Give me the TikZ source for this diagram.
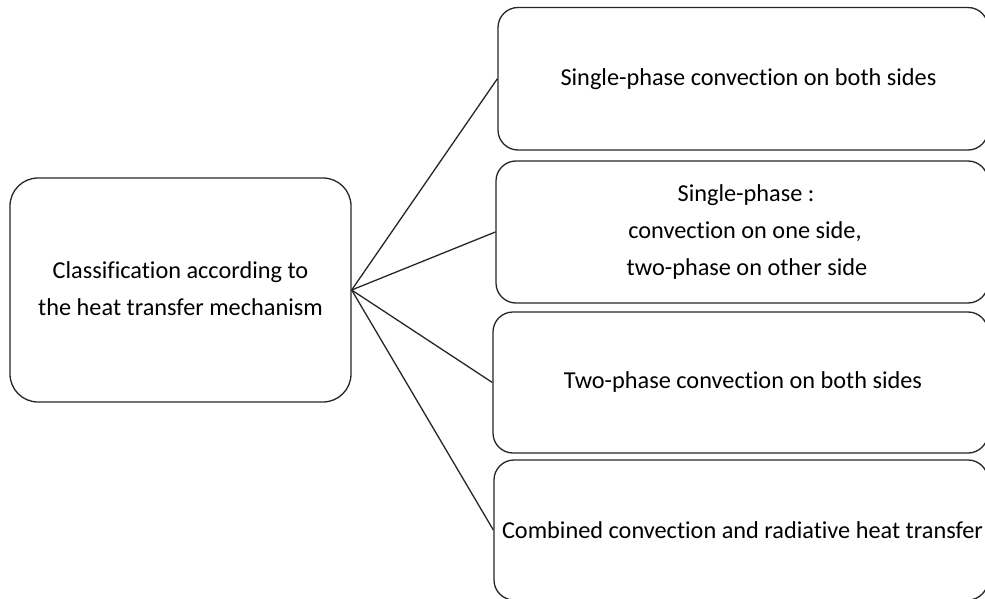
\documentclass[tikz,border=0pt]{standalone}
\usepackage{fontspec}
\setmainfont{Carlito}[Ligatures={CommonOff}]
\begin{document}
\begin{tikzpicture}[x=1pt,y=-1pt,
  box/.style={draw=black!85, line width=1.3pt, rounded corners=20pt,
    inner sep=0pt, align=center, font=\fontsize{24.3}{37}\selectfont},
  link/.style={draw=black!85, line width=1.3pt}]
\useasboundingbox (0,0) rectangle (985,599);
\begin{scope}
\clip (0,0) rectangle (985,599);
% source box on the left
\node[box, rounded corners=28pt, minimum width=341pt, minimum height=224pt]
  (src) at (180.5,290)
  {\raisebox{2pt}{Classification according to}\\\raisebox{2pt}{the heat transfer mechanism}};
% the four categories, running off the right edge
\node[box, minimum width=490pt, minimum height=142.5pt] (b1) at (743,78.75)
  {\hspace*{11pt}Single-phase convection on both sides};
\node[box, minimum width=492pt, minimum height=142pt] (b2) at (742,232)
  {\hspace*{8pt}Single-phase :\\\hspace*{6pt}convection on one side,\\\hspace*{10pt}two-phase on other side};
\node[box, minimum width=495pt, minimum height=141pt] (b3) at (740.5,382.5)
  {\hspace*{5pt}Two-phase convection on both sides};
\node[box, minimum width=494pt, minimum height=140pt] (b4) at (741,530)
  {\hspace*{3pt}Combined convection and radiative heat transfer};
% fan of connectors
\foreach \b in {b1,b2,b3,b4}
  \draw[link] (src.east) -- (\b.west);
\end{scope}
\end{tikzpicture}
\end{document}
